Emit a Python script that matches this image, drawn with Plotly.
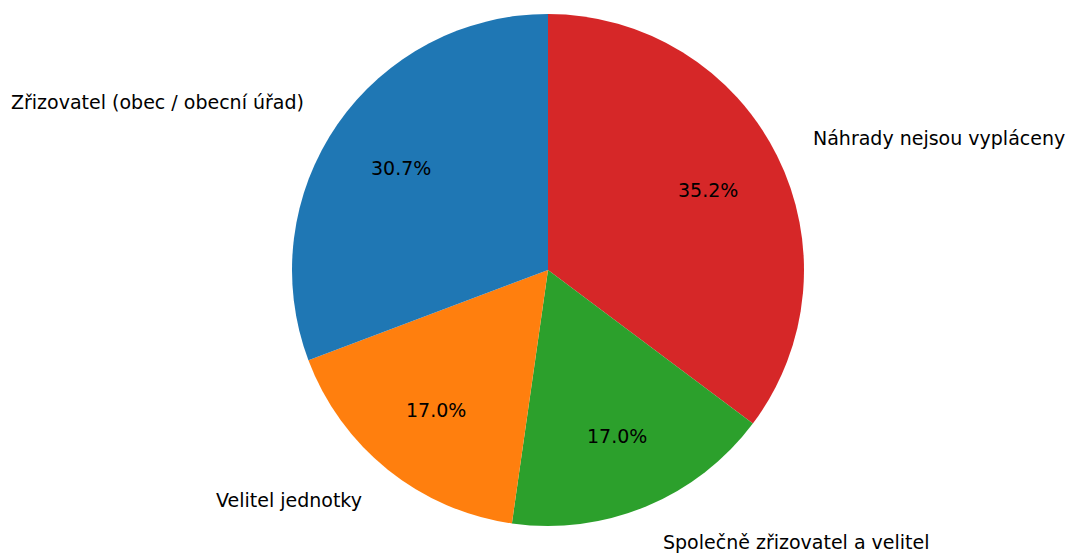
import math
import plotly.graph_objects as go

labels = ["Zřizovatel (obec / obecní úřad)", "Velitel jednotky",
          "Společně zřizovatel a velitel", "Náhrady nejsou vypláceny"]
values = [30.7, 17.0, 17.0, 35.2]
colors = ["#1f77b4", "#ff7f0e", "#2ca02c", "#d62728"]

W, H = 1068, 553
cx, cy, R = 548, 270, 256  # pie centre / radius in pixels

# Plotly draws clockwise from 12 o'clock; feeding the reversed order clockwise
# reproduces matplotlib's counter-clockwise layout starting at 90 degrees.
fig = go.Figure(go.Pie(
    labels=labels[::-1], values=values[::-1], sort=False, direction="clockwise",
    rotation=0, marker=dict(colors=colors[::-1], line=dict(width=0)),
    textinfo="none", hoverinfo="label+percent", showlegend=False,
    domain=dict(x=[(cx - R) / W, (cx + R) / W],
                y=[(H - cy - R) / H, (H - cy + R) / H]),
))

total = sum(values)
annotations = []
start = 90.0
font = dict(family="DejaVu Sans", size=19, color="#000000")
for lab, v in zip(labels, values):
    sweep = v / total * 360
    mid = math.radians(start + sweep / 2)
    start += sweep
    px = cx + 0.7 * R * math.cos(mid)
    py = cy - 0.7 * R * math.sin(mid)
    annotations.append(dict(x=px / W, y=1 - py / H, xref="paper", yref="paper",
                            text=f"{v / total * 100:.1f}%", showarrow=False,
                            xanchor="center", yanchor="middle", font=font))
    lx = cx + 1.15 * R * math.cos(mid)
    ly = cy - 1.15 * R * math.sin(mid)
    annotations.append(dict(x=lx / W, y=1 - ly / H, xref="paper", yref="paper",
                            text=lab, showarrow=False,
                            xanchor="left" if math.cos(mid) > 0 else "right",
                            yanchor="middle", font=font))

fig.update_layout(width=W, height=H, margin=dict(l=0, r=0, t=0, b=0),
                  paper_bgcolor="white", plot_bgcolor="white",
                  annotations=annotations)
fig.write_html("out.html", config={"displayModeBar": False},
               post_script="document.body.style.margin='0';"
                           "document.documentElement.style.overflow='hidden';")
